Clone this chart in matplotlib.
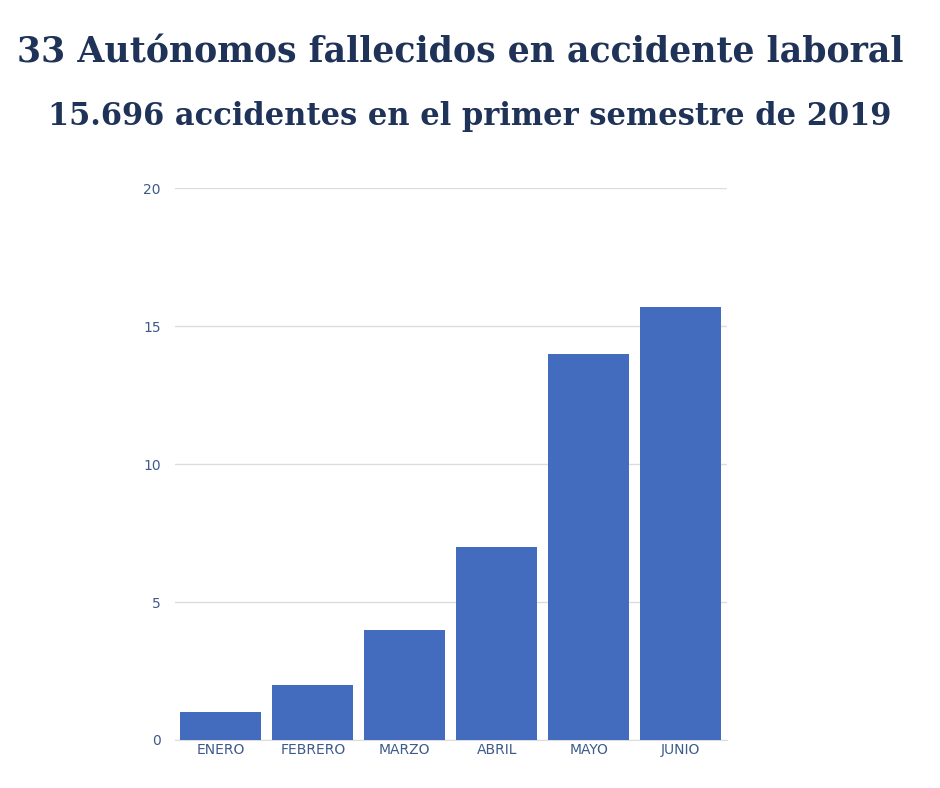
import matplotlib.pyplot as plt

# data
meses = ["ENERO", "FEBRERO", "MARZO", "ABRIL", "MAYO", "JUNIO"]
fallecidos = [1, 2, 4, 7, 14, 15.696]
yticks = [0, 5, 10, 15, 20]

fig = plt.figure(figsize=(9.4, 7.88), dpi=100)
ax = fig.add_axes([0.186, 0.061, 0.587, 0.70])

ax.bar(range(len(meses)), fallecidos, width=0.88, color="#436cbe", zorder=3)

ax.set_xlim(-0.5, len(meses) - 0.5)
ax.set_ylim(0, 20)
ax.set_yticks(yticks)
ax.set_xticks(range(len(meses)))
ax.set_xticklabels(meses)
ax.tick_params(axis="both", length=0, labelsize=10, labelcolor="#3d5a8a")
ax.tick_params(axis="y", pad=10)
ax.tick_params(axis="x", pad=2)
ax.grid(axis="y", color="#dddddd", lw=1, zorder=0)
for s in ["top", "right", "left"]:
    ax.spines[s].set_visible(False)
ax.spines["bottom"].set_color("#dddddd")

title_color = "#1f3358"
fig.text(0.49, 0.934, "33 Autónomos fallecidos en accidente laboral",
         ha="center", va="center", fontsize=25, fontweight="bold",
         family="DejaVu Serif", color=title_color)
fig.text(0.5, 0.852, "15.696 accidentes en el primer semestre de 2019",
         ha="center", va="center", fontsize=22, fontweight="bold",
         family="DejaVu Serif", color=title_color)

plt.savefig("out.png", dpi=100)
